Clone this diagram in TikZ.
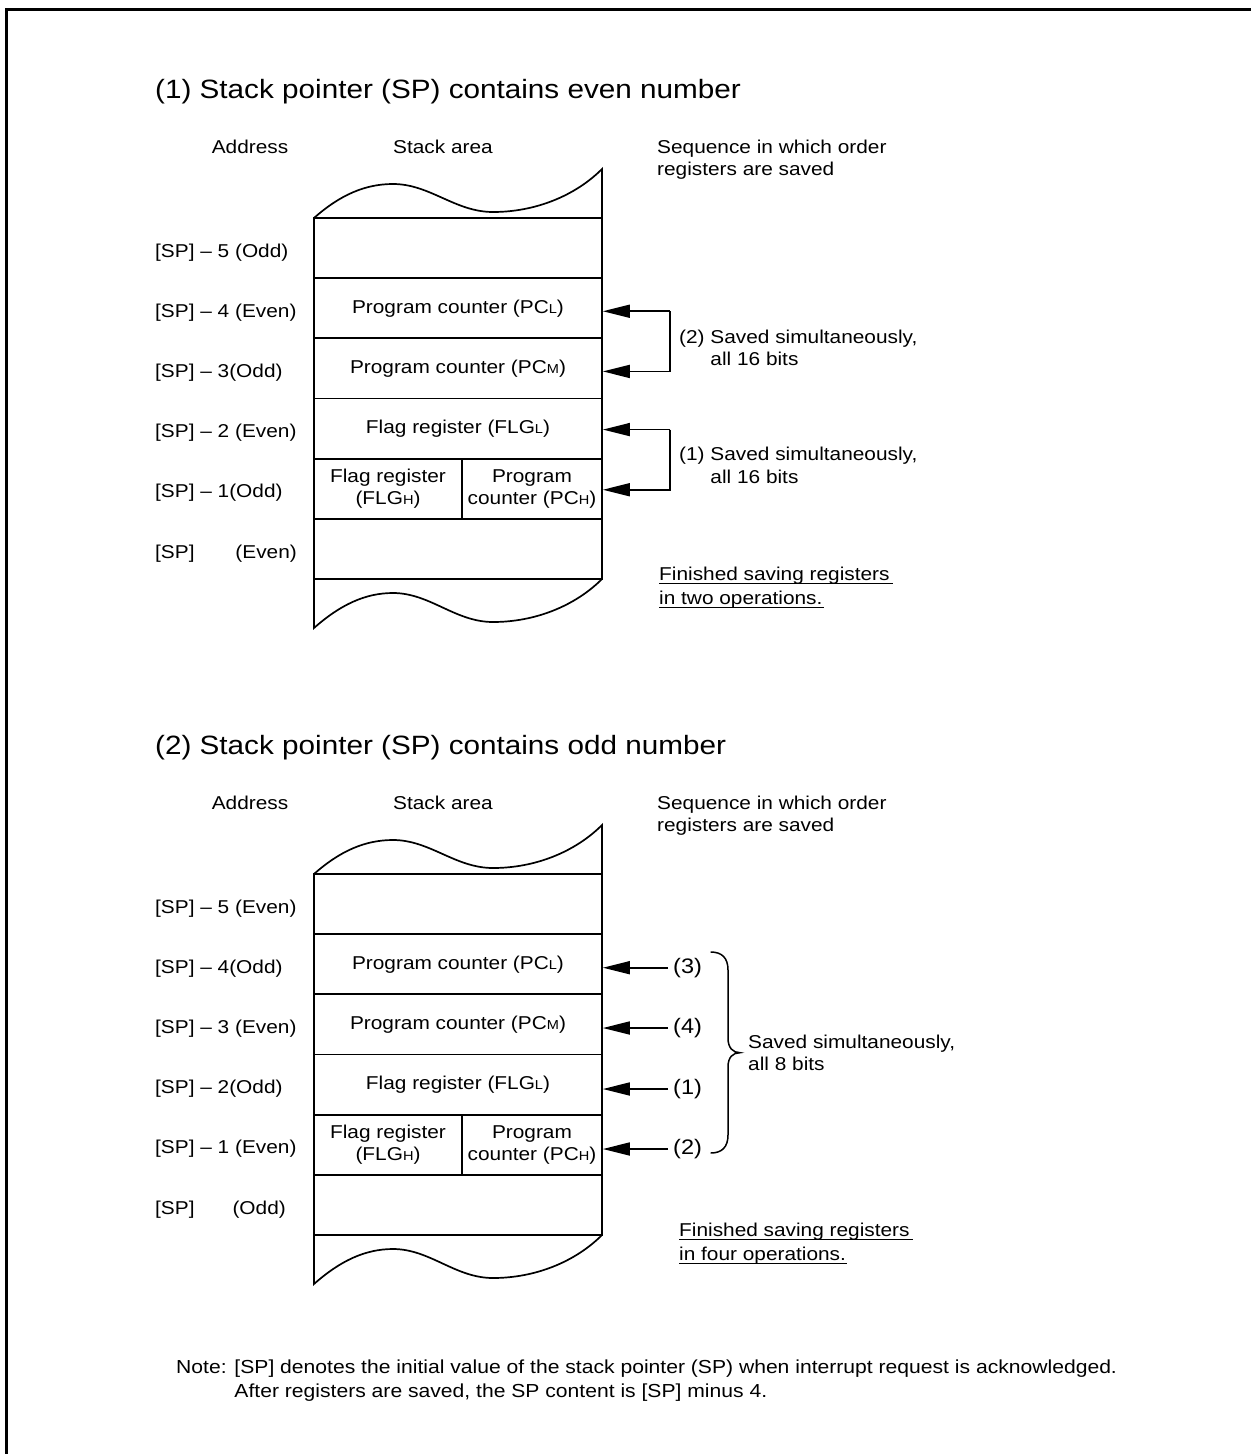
\documentclass[tikz,border=0pt]{standalone}
\usepackage{fontspec}
\setmainfont{Liberation Sans}[FakeStretch=1.12]
\usetikzlibrary{arrows.meta}
\newcommand{\lowsub}[1]{{\fontsize{13}{13}\selectfont #1}}
\begin{document}
\begin{tikzpicture}[x=1pt,y=-1pt,
  body/.style={font=\fontsize{18.6}{22.5}\selectfont, inner sep=0pt},
  lbl/.style={body, anchor=base west},
  ttl/.style={font=\fontsize{26.5}{30}\selectfont, inner sep=0pt, anchor=base west},
  cell/.style={draw, line width=1.7pt, inner sep=0pt, align=center, font=\fontsize{18.6}{22}\selectfont},
  wide/.style={cell, minimum width=288pt, minimum height=60.17pt},
  lcell/.style={cell, minimum width=148pt, minimum height=60.17pt},
  rcell/.style={cell, minimum width=140pt, minimum height=60.17pt},
  ln/.style={line width=1.7pt},
  arr/.style={line width=1.7pt, -{Triangle[length=27pt,width=13pt]}},
  uline/.style={line width=1.4pt},
  num/.style={font=\fontsize{21}{24}\selectfont, anchor=west, inner ysep=0pt, inner xsep=5pt}
]
\useasboundingbox (0,0) rectangle (1251,1454);
\fill[white] (0,0) rectangle (1251,1454);
% frame
\draw[line width=2.5pt] (6.3,1454) -- (6.3,9.5) -- (1251,9.5);

% ================= Section 1 =================
\node[ttl] (t1) at (155,98) {(1) Stack pointer (SP) contains even number};
\node[body, anchor=base] (ha1) at (250,153.3) {Address};
\node[body, anchor=base] (hs1) at (443,153.3) {Stack area};
\node[lbl, align=left] (hq1) at (657,175.8) {Sequence in which order\\registers are saved};

% stack top wave
\draw[ln] (314,218) .. controls (340,195) and (365,184) .. (393,184)
  .. controls (430,184) and (455,212) .. (493,212)
  .. controls (535,212) and (575,196) .. (602,169) -- (602,218);
% rows
\node[wide] (a1) at (458,248.08) {};
\node[wide] (a2) at (458,308.25) {Program counter (PC\lowsub{L})};
\node[wide] (a3) at (458,368.42) {Program counter (PC\lowsub{M})};
\node[wide] (a4) at (458,428.58) {Flag register (FLG\lowsub{L})};
\node[lcell] (a5l) at (388,488.75) {Flag register\\(FLG\lowsub{H})};
\node[rcell] (a5r) at (532,488.75) {Program\\counter (PC\lowsub{H})};
\node[wide] (a6) at (458,548.92) {};
% bottom wave
\draw[ln] (314,579) -- (314,628) .. controls (340,605) and (365,593) .. (393,593)
  .. controls (430,593) and (455,622) .. (493,622)
  .. controls (535,622) and (575,606) .. (602,579);

% addresses
\node[lbl] (ad1) at (155,257) {[SP] -- 5 (Odd)};
\node[lbl] (ad2) at (155,317.2) {[SP] -- 4 (Even)};
\node[lbl] (ad3) at (155,377.4) {[SP] -- 3(Odd)};
\node[lbl] (ad4) at (155,437.6) {[SP] -- 2 (Even)};
\node[lbl] (ad5) at (155,497.8) {[SP] -- 1(Odd)};
\node[lbl] (ad6) at (155,558) {[SP]};
\node[body, anchor=base east] (ad6b) at (297,558) {(Even)};

% bracket arrows
\coordinate (ka) at ([xshift=67pt,yshift=-3pt]a2.east);
\draw[arr] (ka) -- ([yshift=-3pt]a2.east);
\draw[arr] (ka) |- ([yshift=-3pt]a3.east);
\coordinate (kb) at ([xshift=67pt,yshift=-1pt]a4.east);
\draw[arr] (kb) -- ([yshift=-1pt]a4.east);
\draw[arr] (kb) |- ([yshift=-1pt]a5r.east);
\node[lbl, align=left] (s2) at (679,365.7) {(2) Saved simultaneously,\\\hphantom{(2) }all 16 bits};
\node[lbl, align=left] (s1) at (679,483.1) {(1) Saved simultaneously,\\\hphantom{(1) }all 16 bits};

% finished
\node[lbl] (f1) at (659,580) {Finished saving registers};
\node[lbl] (f2) at (659,604) {in two operations.};
\draw[uline] ([yshift=-3.5pt]f1.base west) -- ([xshift=3pt,yshift=-3.5pt]f1.base east);
\draw[uline] ([yshift=-3.5pt]f2.base west) -- ([xshift=1pt,yshift=-3.5pt]f2.base east);

% ================= Section 2 =================
\node[ttl] (t2) at (155,754) {(2) Stack pointer (SP) contains odd number};
\node[body, anchor=base] (ha2) at (250,809.3) {Address};
\node[body, anchor=base] (hs2) at (443,809.3) {Stack area};
\node[lbl, align=left] (hq2) at (657,831.8) {Sequence in which order\\registers are saved};

\draw[ln] (314,874) .. controls (340,851) and (365,840) .. (393,840)
  .. controls (430,840) and (455,868) .. (493,868)
  .. controls (535,868) and (575,852) .. (602,825) -- (602,874);
\node[wide] (b1) at (458,904.08) {};
\node[wide] (b2) at (458,964.25) {Program counter (PC\lowsub{L})};
\node[wide] (b3) at (458,1024.42) {Program counter (PC\lowsub{M})};
\node[wide] (b4) at (458,1084.58) {Flag register (FLG\lowsub{L})};
\node[lcell] (b5l) at (388,1144.75) {Flag register\\(FLG\lowsub{H})};
\node[rcell] (b5r) at (532,1144.75) {Program\\counter (PC\lowsub{H})};
\node[wide] (b6) at (458,1204.92) {};
\draw[ln] (314,1235) -- (314,1284) .. controls (340,1261) and (365,1249) .. (393,1249)
  .. controls (430,1249) and (455,1278) .. (493,1278)
  .. controls (535,1278) and (575,1262) .. (602,1235);

\node[lbl] (bd1) at (155,913) {[SP] -- 5 (Even)};
\node[lbl] (bd2) at (155,973.2) {[SP] -- 4(Odd)};
\node[lbl] (bd3) at (155,1033.4) {[SP] -- 3 (Even)};
\node[lbl] (bd4) at (155,1093.6) {[SP] -- 2(Odd)};
\node[lbl] (bd5) at (155,1153.8) {[SP] -- 1 (Even)};
\node[lbl] (bd6) at (155,1214) {[SP]};
\node[body, anchor=base east] (bd6b) at (286,1214) {(Odd)};

\node[num] (n3) at (668,967.7) {(3)};
\node[num] (n4) at (668,1028) {(4)};
\node[num] (n1) at (668,1089) {(1)};
\node[num] (n2) at (668,1149) {(2)};
\draw[arr] (n3.west) -- (n3.west -| b2.east);
\draw[arr] (n4.west) -- (n4.west -| b3.east);
\draw[arr] (n1.west) -- (n1.west -| b4.east);
\draw[arr] (n2.west) -- (n2.west -| b5r.east);

% brace
\draw[line width=1.5pt] (710.7,952) .. controls (722,952) and (728,958) .. (728,970)
  -- (728,1038) .. controls (728,1048) and (733,1052.7) .. (740,1052.7)
  .. controls (733,1052.7) and (728,1057) .. (728,1067)
  -- (728,1135) .. controls (728,1147) and (722,1153) .. (710.7,1153);
\node[lbl, align=left] (s8) at (748,1070.7) {Saved simultaneously,\\all 8 bits};

\node[lbl] (g1) at (679,1236) {Finished saving registers};
\node[lbl] (g2) at (679,1260) {in four operations.};
\draw[uline] ([yshift=-3.5pt]g1.base west) -- ([xshift=3pt,yshift=-3.5pt]g1.base east);
\draw[uline] ([yshift=-3.5pt]g2.base west) -- ([xshift=1pt,yshift=-3.5pt]g2.base east);

% note
\node[lbl, align=left, font=\fontsize{18.85}{24}\selectfont] (note) at (176,1397) {Note: [SP] denotes the initial value of the stack pointer (SP) when interrupt request is acknowledged.\\\hphantom{Note: }After registers are saved, the SP content is [SP] minus 4.};
\end{tikzpicture}
\end{document}
